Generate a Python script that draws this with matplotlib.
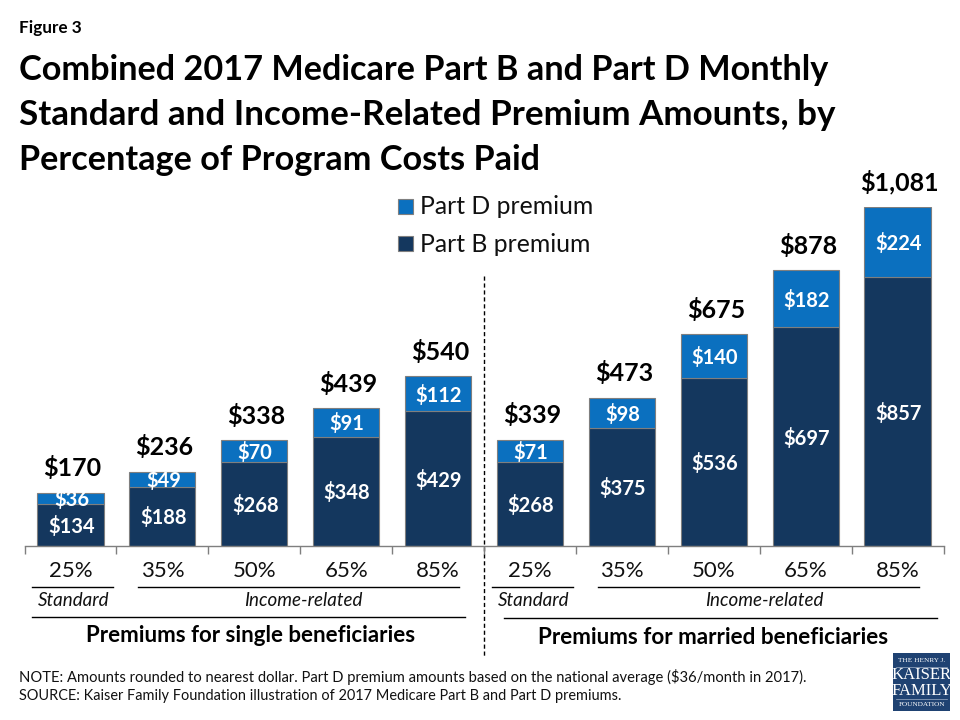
import matplotlib
matplotlib.use("Agg")
import matplotlib.pyplot as plt
from matplotlib.patches import Rectangle

plt.rcParams["font.family"] = ["Lato", "DejaVu Sans"]

# data
pct_labels = ["25%", "35%", "50%", "65%", "85%", "25%", "35%", "50%", "65%", "85%"]
part_b = [134, 188, 268, 348, 429, 268, 375, 536, 697, 857]
part_d = [36, 49, 70, 91, 112, 71, 98, 140, 182, 224]
totals = [170, 236, 338, 439, 540, 339, 473, 675, 878, 1081]

NAVY = "#14375E"
BLUE = "#0B70BF"
EDGE = "#7F7F7F"
W, H = 960, 720


def money(v):
    return f"${v:,}"


fig = plt.figure(figsize=(W / 100, H / 100), dpi=100, facecolor="white")

# overlay in pixel coords for all the text and rules
pg = fig.add_axes([0, 0, 1, 1])
pg.set_xlim(0, W)
pg.set_ylim(H, 0)
pg.axis("off")

# chart axes: baseline at y=546, tallest bar top at y=207
ax = fig.add_axes([24.5 / W, 1 - 546 / H, 919 / W, 339 / H])
ax.patch.set_alpha(0)
xs = list(range(len(part_b)))
ax.bar(xs, part_b, width=0.72, color=NAVY, edgecolor=EDGE, linewidth=0.8)
ax.bar(xs, part_d, width=0.72, bottom=part_b, color=BLUE, edgecolor=EDGE, linewidth=0.8)
ax.set_xlim(-0.5, 9.5)
ax.set_ylim(0, 1081)
ax.set_xticks([i - 0.5 for i in range(11)])
ax.set_xticklabels([])
ax.set_yticks([])
ax.tick_params(axis="x", length=6, width=1, color=EDGE, direction="out")
for s in ["top", "left", "right"]:
    ax.spines[s].set_visible(False)
ax.spines["bottom"].set_color(EDGE)
ax.spines["bottom"].set_linewidth(1)

for i in xs:
    ax.annotate(money(part_b[i]), (i, part_b[i] / 2), xytext=(0.7, -1), textcoords="offset points",
                color="white", fontsize=14.5, fontweight="bold", ha="center", va="center")
    ax.annotate(money(part_d[i]), (i, part_b[i] + part_d[i] / 2), xytext=(0.7, -1),
                textcoords="offset points", color="white", fontsize=14.5, fontweight="bold",
                ha="center", va="center")
    ax.annotate(money(totals[i]), (i, totals[i]), xytext=(1.5, 9), textcoords="offset points",
                color="black", fontsize=18, fontweight="bold", ha="center", va="bottom",
                annotation_clip=False)
    pg.text(24.5 + 91.9 * i + 46, 571, pct_labels[i], fontsize=16, ha="center", va="center",
            color="#111111")

# titles
pg.text(19, 28, "Figure 3", fontsize=12.3, fontweight="bold", ha="left", va="center")
for y, size, line in zip([70, 115, 160], [24.7, 25.2, 24.7],
                         ["Combined 2017 Medicare Part B and Part D Monthly",
                          "Standard and Income-Related Premium Amounts, by",
                          "Percentage of Program Costs Paid"]):
    pg.text(19, y, line, fontsize=size, fontweight="bold", ha="left", va="center")

# legend
for y, col, lab in [(206, BLUE, "Part D premium"), (243, NAVY, "Part B premium")]:
    pg.add_patch(Rectangle((397.5, y - 7.5), 15, 15, facecolor=col, edgecolor=EDGE, linewidth=0.8))
    pg.text(420, y + 1, lab, fontsize=17.8, ha="left", va="center", color="#111111")

# divider
pg.plot([483.5, 483.5], [276, 657], color="black", linewidth=1, linestyle=(0, (3, 2)))

# group rules and labels
for x0, x1, y in [(32, 113, 587), (138, 459, 587), (32, 465, 617),
                  (492, 573, 587), (598, 919, 587), (504, 937, 618)]:
    pg.plot([x0, x1], [y, y], color="black", linewidth=1)
for x, lab in [(74, "Standard"), (303, "Income-related"), (534, "Standard"), (764, "Income-related")]:
    pg.text(x, 600, lab, fontsize=13.5, style="italic", ha="center", va="center", color="#111111")
pg.text(251, 636, "Premiums for single beneficiaries", fontsize=16, fontweight="bold",
        ha="center", va="center")
pg.text(713, 638, "Premiums for married beneficiaries", fontsize=16.2, fontweight="bold",
        ha="center", va="center")

# notes
pg.text(19, 677, "NOTE: Amounts rounded to nearest dollar. Part D premium amounts based on the "
        "national average ($36/month in 2017).", fontsize=10.6, ha="left", va="center", color="#111111")
pg.text(19, 696, "SOURCE: Kaiser Family Foundation illustration of 2017 Medicare Part B and Part D premiums.",
        fontsize=10.45, ha="left", va="center", color="#111111")

# logo
pg.add_patch(Rectangle((893, 653), 57, 58, facecolor="#1F4272", edgecolor="none"))
logo_font = ["Liberation Serif", "DejaVu Serif"]
pg.text(921.5, 660, "THE HENRY J.", fontsize=5.2, color="white", ha="center", va="center", family=logo_font)
pg.text(921.5, 675, "KAISER", fontsize=12, color="white", ha="center", va="center", family=logo_font)
pg.text(921.5, 691, "FAMILY", fontsize=12, color="white", ha="center", va="center", family=logo_font)
pg.text(921.5, 705, "FOUNDATION", fontsize=5.2, color="white", ha="center", va="center", family=logo_font)
pg.plot([896, 947], [666.5, 666.5], color="#9FB0C8", linewidth=0.5)
pg.plot([896, 947], [699, 699], color="#9FB0C8", linewidth=0.5)

fig.savefig("out.png", dpi=100)
